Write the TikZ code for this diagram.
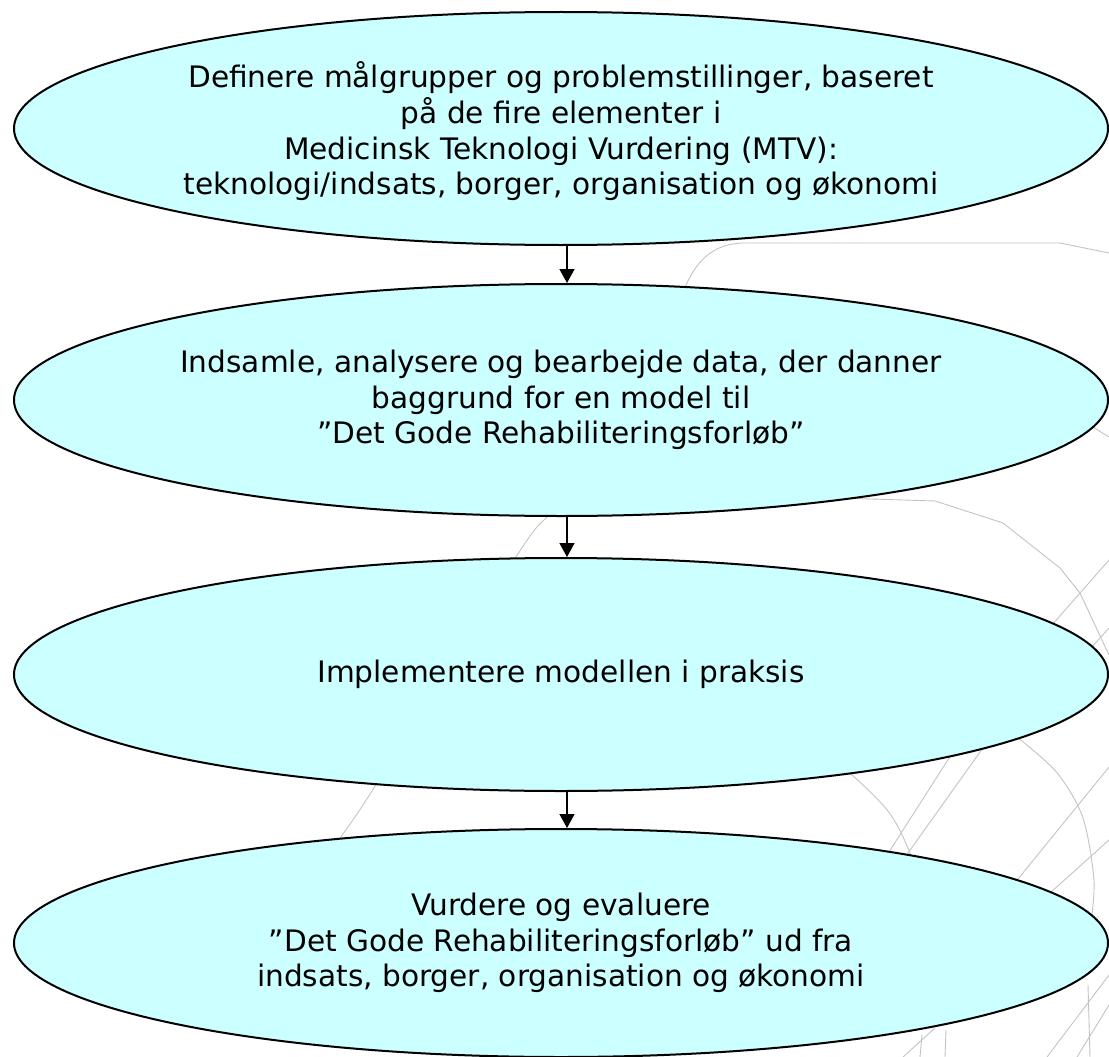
\documentclass[tikz,border=0pt]{standalone}
\usepackage{fontspec}
\setmainfont{DejaVu Sans}
\usetikzlibrary{arrows.meta,shapes.geometric}
\definecolor{ellfill}{RGB}{204,255,255}
\definecolor{wmark}{RGB}{195,195,195}
\begin{document}
\begin{tikzpicture}[x=1pt,y=-1pt,
  ell/.style={ellipse,draw=black,fill=ellfill,line width=2pt,inner sep=0pt,
    minimum width=1094pt,minimum height=233pt},
  txt/.style={align=center,inner sep=0pt,font=\fontsize{29.6}{35.7}\selectfont},
  arr/.style={line width=1.4pt,-{Triangle[length=14pt,width=15pt]}},
  bg/.style={draw=wmark,line width=0.9pt}]
\useasboundingbox (0,0) rectangle (1109,1057);
% background watermark lines
\begin{scope}[bg]
\draw (683,292) .. controls (695,262) and (712,243) .. (745,243) -- (1060,243) -- (1109,253);
\draw (1088,424) -- (1109,437);
\draw (840,498) -- (935,501) -- (1003,523) -- (1060,568) -- (1080,593) -- (1109,655);
\draw (1030,650) -- (1109,560);
\draw (1080,660) -- (1109,628);
\draw plot[smooth] coordinates {(562,505) (547,517) (516,557) (377,783) (341,837) (330,855)};
\draw plot[smooth] coordinates {(830,760) (851,774) (888,811) (908,848) (925,900)};
\draw (880,866) -- (960,741);
\draw (903,860) -- (990,738);
\draw plot[smooth] coordinates {(1005,730) (1022,741) (1058,774) (1083,818) (1094,881) (1090,930)};
\draw (1005,895) -- (1109,767);
\draw (1040,902) -- (1109,840);
\draw (903,1057) -- (935,1028);
\draw (920,1057) -- (922,1035);
\draw (945,1057) -- (946,1030);
\draw (1047,1057) -- (1109,975);
\draw (1077,1057) -- (1109,1005);
\draw (1090,1057) -- (1088,985);
\end{scope}
% ellipses
\node[ell] (e1) at (561,128.5) {};
\node[ell,minimum height=232pt] (e2) at (561,400) {};
\node[ell] (e3) at (561,674.5) {};
\node[ell,minimum height=228pt] (e4) at (561,943) {};
% texts
\node[txt] (t1) at ([yshift=-3pt]e1.center) {Definere målgrupper og problemstillinger, baseret\\på de fire elementer i\\Medicinsk Teknologi Vurdering (MTV):\\teknologi/indsats, borger, organisation og økonomi};
\node[txt] (t2) at (e2) {Indsamle, analysere og bearbejde data, der danner\\baggrund for en model til\\”Det Gode Rehabiliteringsforløb”};
\node[txt] (t3) at (e3) {Implementere modellen i praksis};
\node[txt] (t4) at (e4) {Vurdere og evaluere\\”Det Gode Rehabiliteringsforløb” ud fra\\indsats, borger, organisation og økonomi};
% arrows
\draw[arr] ([xshift=6pt]e1.south) -- ([xshift=6pt]e2.north);
\draw[arr] ([xshift=6pt]e2.south) -- ([xshift=6pt]e3.north);
\draw[arr] ([xshift=6pt]e3.south) -- ([xshift=6pt]e4.north);
\end{tikzpicture}
\end{document}
